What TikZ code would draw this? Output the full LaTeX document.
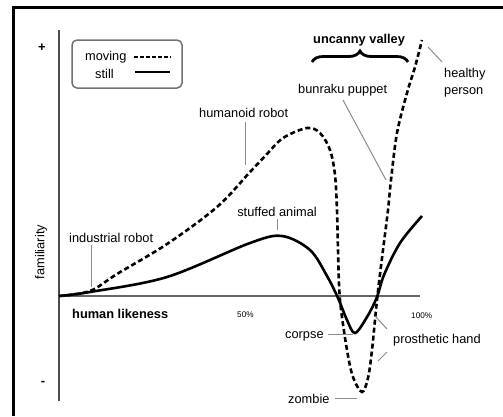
\documentclass[tikz,border=0pt]{standalone}
\usepackage{fontspec}
\setmainfont{Liberation Sans}
\usetikzlibrary{decorations.pathreplacing}
\begin{document}
\begin{tikzpicture}[x=1pt,y=-1pt,
  lbl/.style={inner sep=0pt, font=\fontsize{12.8}{15}\selectfont},
  blbl/.style={inner sep=0pt, font=\fontsize{12.8}{15}\selectfont\bfseries},
  small/.style={inner sep=0pt, font=\fontsize{8.2}{10}\selectfont},
  sign/.style={inner sep=0pt, font=\fontsize{13}{14}\selectfont\bfseries},
  leader/.style={draw=black!45, line width=1pt},
  movingcurve/.style={draw=black, line width=2.6pt, dash pattern=on 5pt off 3pt},
  stillcurve/.style={draw=black, line width=2.6pt},
  axis/.style={draw=black!60, line width=2pt}]
\useasboundingbox (0,0) rectangle (503,416);
\fill[white] (0,0) rectangle (503,416);
% frame (right and bottom sides lie outside the picture)
\draw[line width=3pt] (503,7) -- (13,7) -- (13,416);

% axes
\coordinate (ytop) at (59,30);
\coordinate (ybot) at (59,401);
\coordinate (O) at (59,296);
\coordinate (xend) at (420,296);
\draw[axis, draw=black!70] (ytop) -- (ybot);
\draw[axis] (O) -- (xend);
\node[sign] (plus) at (42,48) {+};
\node[sign] (minus) at (43,383) {-};
\node[lbl, rotate=90] (fam) at (41,252) {familiarity};

% legend
\draw[draw=black!55, line width=1.5pt, rounded corners=5pt] (72,40) rectangle (182,88);
\node[lbl, anchor=base west] (mov) at (85,60) {moving};
\node[lbl, anchor=base west] (sti) at (95,78) {still};
\coordinate (ma) at (134,57); \coordinate (mb) at (171,57);
\coordinate (sa) at (135,72); \coordinate (sb) at (170,72);
\draw[draw=black, line width=2pt, dash pattern=on 4pt off 2pt] (ma) -- (mb);
\draw[draw=black, line width=1.3pt] (sa) -- (sb);

% curves
\draw[movingcurve] plot[smooth, tension=0.55] coordinates {
 (59,296) (90,291) (117,274) (167,244) (217,207) (250,172) (267,154) (283,138)
 (307,128) (320,133) (330,150) (335,175) (337,210) (338,250) (340,300) (347,350)
 (353,377) (362,392) (368,378) (372,350) (377,300) (382,258) (388,210) (391,180)
 (397,133) (407,93) (415,67) (422,40)};
\draw[stillcurve] plot[smooth, tension=0.55] coordinates {
 (59,296) (90,292) (167,277) (250,243) (282,236) (310,250) (327,276) (338,298)
 (347,320) (355,333) (367,317) (377,297) (384,275) (400,243) (422,216)};

% labels
\node[blbl, anchor=base west] (uv) at (313,43) {uncanny valley};
\coordinate (bra) at (312,62); \coordinate (brb) at (408,62);
\draw[line width=2.8pt, decorate, decoration={brace, amplitude=11pt}] (bra) -- (brb);

\node[lbl, anchor=base west] (hr) at (199,117) {humanoid robot};
\coordinate (hra) at (245,122); \coordinate (hrb) at (245,165);
\draw[leader] (hra) -- (hrb);

\node[lbl, anchor=base west] (bp) at (298,93) {bunraku puppet};
\coordinate (bpa) at (343,100); \coordinate (bpb) at (386,180);
\draw[leader] (bpa) -- (bpb);

\node[lbl, anchor=base west] (hp1) at (444,77) {healthy};
\node[lbl, anchor=base west] (hp2) at (444,94) {person};
\coordinate (hpa) at (428,47); \coordinate (hpb) at (442,62);
\draw[leader] (hpa) -- (hpb);

\node[lbl, anchor=base east] (sa2) at (317,216) {stuffed animal};
\coordinate (saa) at (277,219); \coordinate (sab) at (277,230);
\draw[leader] (saa) -- (sab);

\node[lbl, anchor=base west] (ir) at (69,242) {industrial robot};
\coordinate (ira) at (91,245); \coordinate (irb) at (91,287);
\draw[leader] (ira) -- (irb);

\node[blbl, anchor=base west] (hl) at (72,318) {human likeness};
\node[small, anchor=base west] (p50) at (237,317) {50\%};
\node[small, anchor=base west] (p100) at (411,318) {100\%};

\node[lbl, anchor=base west] (co) at (285,338) {corpse};
\coordinate (coa) at (328,334); \coordinate (cob) at (353,334);
\draw[leader] (coa) -- (cob);

\node[lbl, anchor=base west] (ph) at (393,343) {prosthetic hand};
\coordinate (pha) at (387,329); \coordinate (phb) at (375,316);
\coordinate (phc) at (387,352); \coordinate (phd) at (378,361);
\draw[leader] (pha) -- (phb);
\draw[leader] (phc) -- (phd);

\node[lbl, anchor=base west] (zo) at (288,403) {zombie};
\coordinate (zoa) at (335,398); \coordinate (zob) at (357,398);
\draw[leader] (zoa) -- (zob);
\end{tikzpicture}
\end{document}
